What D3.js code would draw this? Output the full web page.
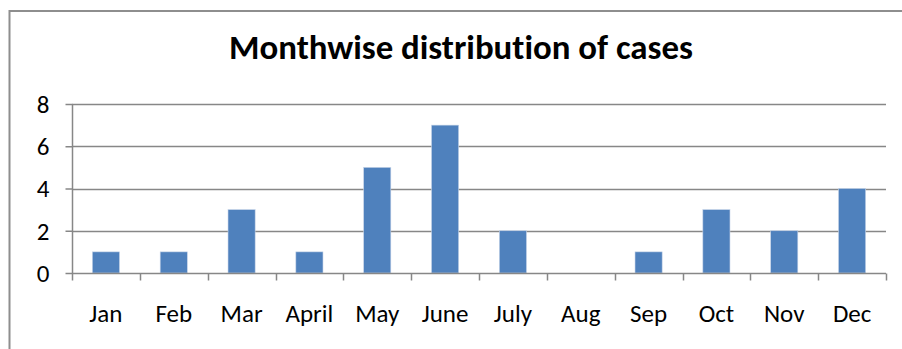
<!DOCTYPE html>
<html><head><meta charset="utf-8">
<script src="https://cdn.jsdelivr.net/npm/d3@7"></script>
<style>html,body{margin:0;padding:0;background:#fff;}svg{display:block;}text{font-variant-ligatures:none;font-feature-settings:"liga" 0;}</style>
</head><body>
<script>
const months = ["Jan","Feb","Mar","April","May","June","July","Aug","Sep","Oct","Nov","Dec"];
const cases = [1,1,3,1,5,7,2,0,1,3,2,4];
const yTicks = [0,2,4,6,8];
const title = "Monthwise distribution of cases";

const W = 902, H = 349;
const font = "Carlito, Lato, 'Open Sans', sans-serif";
const svg = d3.select("body").append("svg").attr("width", W).attr("height", H);

// outer frame (left & top visible)
svg.append("path").attr("d", "M9.5,349 L9.5,11 L902,11")
  .attr("fill","none").attr("stroke","#8e8e8e").attr("stroke-width",2);

const x = d3.scaleBand().domain(months).range([72, 886]).paddingInner(0).paddingOuter(0);
const y = d3.scaleLinear().domain([0, 8]).range([273, 104]);

// gridlines
svg.append("g").selectAll("line").data(yTicks.filter(d => d > 0)).join("line")
  .attr("x1", 72).attr("x2", 886)
  .attr("y1", d => Math.round(y(d)) + 0.5).attr("y2", d => Math.round(y(d)) + 0.5)
  .attr("stroke", "#878787").attr("stroke-width", 1.5);

// bars
const bw = x.bandwidth() / 2.5;
svg.append("g").selectAll("rect").data(months).join("rect")
  .attr("x", (d) => x(d) + (x.bandwidth() - bw) / 2)
  .attr("width", bw)
  .attr("y", (d, i) => y(cases[i]))
  .attr("height", (d, i) => y(0) - y(cases[i]))
  .attr("fill", "#4f81bd")
  .attr("stroke", "#c6d4e8").attr("stroke-width", 0.6);

// y axis
const yAxis = d3.axisLeft(y).tickValues(yTicks).tickSize(7).tickPadding(16).tickFormat(d3.format("d"));
const gy = svg.append("g").attr("transform", "translate(72.5,0)").call(yAxis);
gy.select(".domain").attr("stroke", "#878787").attr("stroke-width", 1.5).attr("d", "M0,104V273");
gy.selectAll(".tick line").attr("stroke", "#878787").attr("stroke-width", 1.5);
gy.selectAll("text").attr("font-family", font).attr("font-size", 25).attr("fill", "#000").attr("dy", "0.33em");

// x axis with category-boundary ticks
const gx = svg.append("g").attr("transform", "translate(0,273.5)");
gx.append("line").attr("x1", 72).attr("x2", 886).attr("stroke", "#878787").attr("stroke-width", 1.5);
const bounds = months.map(m => x(m)).concat([x(months[months.length-1]) + x.bandwidth()]);
gx.selectAll("line.tk").data(bounds).join("line").attr("class","tk")
  .attr("x1", d => Math.round(d) + 0.5).attr("x2", d => Math.round(d) + 0.5)
  .attr("y1", 0).attr("y2", 7).attr("stroke", "#878787").attr("stroke-width", 1.5);
gx.selectAll("text").data(months).join("text")
  .attr("x", d => x(d) + x.bandwidth() / 2).attr("y", 48)
  .attr("text-anchor", "middle").attr("font-family", font).attr("font-size", 25).attr("fill", "#000")
  .text(d => d);

// title
const t = svg.append("text").attr("x", 461).attr("y", 59).attr("text-anchor", "middle")
  .attr("font-family", font).attr("font-weight", "bold").attr("font-size", 27).attr("fill", "#000")
  .text(title);
const len = t.node().getComputedTextLength();
t.attr("font-size", 27 * 464 / len);
</script>
</body></html>
